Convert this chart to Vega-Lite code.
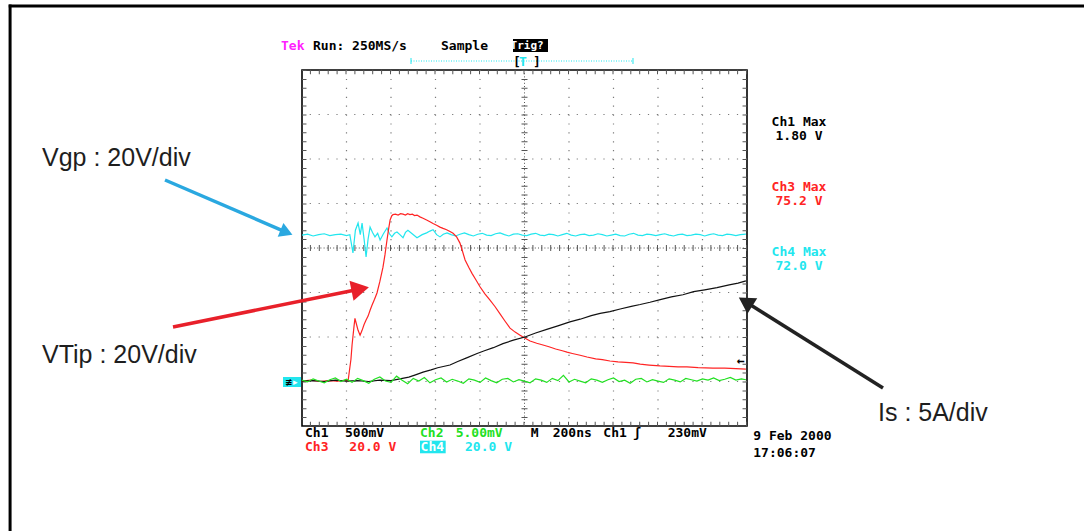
{
  "$schema": "https://vega.github.io/schema/vega-lite/v6.json",
  "width": 445,
  "height": 356,
  "autosize": {"type": "none"},
  "padding": {"left": 302, "top": 70, "right": 337, "bottom": 105},
  "background": "#ffffff",
  "config": {"view": {"stroke": "#000000", "strokeWidth": 1.6}},
  "layer": [
    {
      "data": {"values": [{"t": -800}, {"t": -600}, {"t": -400}, {"t": -200}, {"t": 200}, {"t": 400}, {"t": 600}, {"t": 800}]},
      "mark": {"type": "rule", "color": "#7a7a7a", "strokeWidth": 1.2, "strokeDash": [1.2, 7.7]},
      "encoding": {"x": {"field": "t", "type": "quantitative", "scale": {"domain": [-1000, 1000], "nice": false, "zero": false}, "axis": null}}
    },
    {
      "data": {"values": [{"v": -3}, {"v": -2}, {"v": -1}, {"v": 1}, {"v": 2}, {"v": 3}]},
      "mark": {"type": "rule", "color": "#7a7a7a", "strokeWidth": 1.2, "strokeDash": [1.2, 7.7]},
      "encoding": {"y": {"field": "v", "type": "quantitative", "scale": {"domain": [-4, 4], "nice": false, "zero": false}, "axis": null}}
    },
    {
      "data": {"values": [{"t": 0}]},
      "mark": {"type": "rule", "color": "#555555", "strokeWidth": 1, "strokeDash": [1, 2.2]},
      "encoding": {"x": {"field": "t", "type": "quantitative", "scale": {"domain": [-1000, 1000], "nice": false, "zero": false}, "axis": null}}
    },
    {
      "data": {"values": [{"v": 0}]},
      "mark": {"type": "rule", "color": "#555555", "strokeWidth": 1, "strokeDash": [1, 2.2]},
      "encoding": {"y": {"field": "v", "type": "quantitative", "scale": {"domain": [-4, 4], "nice": false, "zero": false}, "axis": null}}
    },
    {
      "data": {"values": [{"t": 0}]},
      "mark": {"type": "rule", "color": "#555555", "strokeWidth": 6, "strokeDash": [1, 7.9]},
      "encoding": {"x": {"field": "t", "type": "quantitative", "scale": {"domain": [-1000, 1000], "nice": false, "zero": false}, "axis": null}}
    },
    {
      "data": {"values": [{"v": 0}]},
      "mark": {"type": "rule", "color": "#555555", "strokeWidth": 6, "strokeDash": [1, 7.9]},
      "encoding": {"y": {"field": "v", "type": "quantitative", "scale": {"domain": [-4, 4], "nice": false, "zero": false}, "axis": null}}
    },
    {
      "data": {"values": [{"t": -990}, {"t": 990}]},
      "mark": {"type": "rule", "color": "#555555", "strokeWidth": 4.5, "strokeDash": [1, 7.9]},
      "encoding": {"x": {"field": "t", "type": "quantitative", "scale": {"domain": [-1000, 1000], "nice": false, "zero": false}, "axis": null}}
    },
    {
      "data": {"values": [{"v": 3.955}, {"v": -3.955}]},
      "mark": {"type": "rule", "color": "#555555", "strokeWidth": 4.5, "strokeDash": [1, 7.9]},
      "encoding": {"y": {"field": "v", "type": "quantitative", "scale": {"domain": [-4, 4], "nice": false, "zero": false}, "axis": null}}
    },
    {
      "data": {"values": [
        {"ch": "Ch4", "t": -1000, "v": 0.29}, {"ch": "Ch4", "t": -975, "v": 0.31}, {"ch": "Ch4", "t": -950, "v": 0.27}, {"ch": "Ch4", "t": -925, "v": 0.30},
        {"ch": "Ch4", "t": -900, "v": 0.32}, {"ch": "Ch4", "t": -875, "v": 0.28}, {"ch": "Ch4", "t": -850, "v": 0.30}, {"ch": "Ch4", "t": -825, "v": 0.31},
        {"ch": "Ch4", "t": -800, "v": 0.28}, {"ch": "Ch4", "t": -785, "v": 0.30}, {"ch": "Ch4", "t": -771, "v": -0.11}, {"ch": "Ch4", "t": -760, "v": 0.40},
        {"ch": "Ch4", "t": -748, "v": 0.56}, {"ch": "Ch4", "t": -738, "v": 0.30}, {"ch": "Ch4", "t": -730, "v": 0.56}, {"ch": "Ch4", "t": -721, "v": 0.20},
        {"ch": "Ch4", "t": -712, "v": -0.20}, {"ch": "Ch4", "t": -703, "v": 0.20}, {"ch": "Ch4", "t": -694, "v": 0.47}, {"ch": "Ch4", "t": -683, "v": 0.35},
        {"ch": "Ch4", "t": -672, "v": 0.25}, {"ch": "Ch4", "t": -660, "v": 0.33}, {"ch": "Ch4", "t": -649, "v": 0.18}, {"ch": "Ch4", "t": -634, "v": 0.32},
        {"ch": "Ch4", "t": -618, "v": 0.45}, {"ch": "Ch4", "t": -607, "v": 0.32}, {"ch": "Ch4", "t": -596, "v": 0.25}, {"ch": "Ch4", "t": -584, "v": 0.33},
        {"ch": "Ch4", "t": -573, "v": 0.36}, {"ch": "Ch4", "t": -560, "v": 0.30}, {"ch": "Ch4", "t": -546, "v": 0.23}, {"ch": "Ch4", "t": -535, "v": 0.35},
        {"ch": "Ch4", "t": -524, "v": 0.40}, {"ch": "Ch4", "t": -505, "v": 0.32}, {"ch": "Ch4", "t": -483, "v": 0.23}, {"ch": "Ch4", "t": -460, "v": 0.30},
        {"ch": "Ch4", "t": -440, "v": 0.34}, {"ch": "Ch4", "t": -425, "v": 0.38}, {"ch": "Ch4", "t": -411, "v": 0.41}, {"ch": "Ch4", "t": -395, "v": 0.30},
        {"ch": "Ch4", "t": -380, "v": 0.25}, {"ch": "Ch4", "t": -365, "v": 0.31}, {"ch": "Ch4", "t": -348, "v": 0.34}, {"ch": "Ch4", "t": -330, "v": 0.30},
        {"ch": "Ch4", "t": -310, "v": 0.27}, {"ch": "Ch4", "t": -290, "v": 0.31}, {"ch": "Ch4", "t": -270, "v": 0.34}, {"ch": "Ch4", "t": -250, "v": 0.30},
        {"ch": "Ch4", "t": -230, "v": 0.27}, {"ch": "Ch4", "t": -210, "v": 0.31}, {"ch": "Ch4", "t": -190, "v": 0.33}, {"ch": "Ch4", "t": -170, "v": 0.29},
        {"ch": "Ch4", "t": -150, "v": 0.28}, {"ch": "Ch4", "t": -130, "v": 0.32}, {"ch": "Ch4", "t": -110, "v": 0.34}, {"ch": "Ch4", "t": -90, "v": 0.30},
        {"ch": "Ch4", "t": -70, "v": 0.27}, {"ch": "Ch4", "t": -50, "v": 0.31}, {"ch": "Ch4", "t": -30, "v": 0.32}, {"ch": "Ch4", "t": -10, "v": 0.29},
        {"ch": "Ch4", "t": 10, "v": 0.28}, {"ch": "Ch4", "t": 30, "v": 0.31}, {"ch": "Ch4", "t": 50, "v": 0.33}, {"ch": "Ch4", "t": 70, "v": 0.29},
        {"ch": "Ch4", "t": 90, "v": 0.28}, {"ch": "Ch4", "t": 110, "v": 0.31}, {"ch": "Ch4", "t": 130, "v": 0.30}, {"ch": "Ch4", "t": 150, "v": 0.27},
        {"ch": "Ch4", "t": 170, "v": 0.30}, {"ch": "Ch4", "t": 190, "v": 0.33}, {"ch": "Ch4", "t": 210, "v": 0.29}, {"ch": "Ch4", "t": 230, "v": 0.27},
        {"ch": "Ch4", "t": 250, "v": 0.30}, {"ch": "Ch4", "t": 270, "v": 0.31}, {"ch": "Ch4", "t": 290, "v": 0.28}, {"ch": "Ch4", "t": 310, "v": 0.29},
        {"ch": "Ch4", "t": 330, "v": 0.32}, {"ch": "Ch4", "t": 350, "v": 0.30}, {"ch": "Ch4", "t": 370, "v": 0.27}, {"ch": "Ch4", "t": 390, "v": 0.29},
        {"ch": "Ch4", "t": 410, "v": 0.31}, {"ch": "Ch4", "t": 430, "v": 0.28}, {"ch": "Ch4", "t": 450, "v": 0.27}, {"ch": "Ch4", "t": 470, "v": 0.31},
        {"ch": "Ch4", "t": 490, "v": 0.33}, {"ch": "Ch4", "t": 510, "v": 0.29}, {"ch": "Ch4", "t": 530, "v": 0.28}, {"ch": "Ch4", "t": 550, "v": 0.31},
        {"ch": "Ch4", "t": 570, "v": 0.30}, {"ch": "Ch4", "t": 590, "v": 0.28}, {"ch": "Ch4", "t": 610, "v": 0.30}, {"ch": "Ch4", "t": 630, "v": 0.32},
        {"ch": "Ch4", "t": 650, "v": 0.29}, {"ch": "Ch4", "t": 670, "v": 0.27}, {"ch": "Ch4", "t": 690, "v": 0.30}, {"ch": "Ch4", "t": 710, "v": 0.31},
        {"ch": "Ch4", "t": 730, "v": 0.28}, {"ch": "Ch4", "t": 750, "v": 0.29}, {"ch": "Ch4", "t": 770, "v": 0.31}, {"ch": "Ch4", "t": 790, "v": 0.30},
        {"ch": "Ch4", "t": 810, "v": 0.27}, {"ch": "Ch4", "t": 830, "v": 0.30}, {"ch": "Ch4", "t": 850, "v": 0.32}, {"ch": "Ch4", "t": 870, "v": 0.29},
        {"ch": "Ch4", "t": 890, "v": 0.28}, {"ch": "Ch4", "t": 910, "v": 0.31}, {"ch": "Ch4", "t": 930, "v": 0.30}, {"ch": "Ch4", "t": 950, "v": 0.28},
        {"ch": "Ch4", "t": 970, "v": 0.30}, {"ch": "Ch4", "t": 995, "v": 0.31},

        {"ch": "Ch3", "t": -1000, "v": -2.99}, {"ch": "Ch3", "t": -960, "v": -2.97}, {"ch": "Ch3", "t": -920, "v": -3.0}, {"ch": "Ch3", "t": -880, "v": -2.98},
        {"ch": "Ch3", "t": -840, "v": -2.99}, {"ch": "Ch3", "t": -800, "v": -2.97}, {"ch": "Ch3", "t": -793, "v": -2.99}, {"ch": "Ch3", "t": -780, "v": -2.5},
        {"ch": "Ch3", "t": -775, "v": -2.18}, {"ch": "Ch3", "t": -766, "v": -1.75}, {"ch": "Ch3", "t": -762, "v": -1.58}, {"ch": "Ch3", "t": -757, "v": -1.68},
        {"ch": "Ch3", "t": -748, "v": -1.85}, {"ch": "Ch3", "t": -739, "v": -1.96}, {"ch": "Ch3", "t": -730, "v": -1.85}, {"ch": "Ch3", "t": -721, "v": -1.72},
        {"ch": "Ch3", "t": -712, "v": -1.62}, {"ch": "Ch3", "t": -703, "v": -1.53}, {"ch": "Ch3", "t": -694, "v": -1.40}, {"ch": "Ch3", "t": -685, "v": -1.28},
        {"ch": "Ch3", "t": -674, "v": -1.15}, {"ch": "Ch3", "t": -663, "v": -1.01}, {"ch": "Ch3", "t": -650, "v": -0.75}, {"ch": "Ch3", "t": -636, "v": -0.43},
        {"ch": "Ch3", "t": -627, "v": -0.15}, {"ch": "Ch3", "t": -618, "v": 0.18}, {"ch": "Ch3", "t": -611, "v": 0.42}, {"ch": "Ch3", "t": -604, "v": 0.63},
        {"ch": "Ch3", "t": -597, "v": 0.72}, {"ch": "Ch3", "t": -591, "v": 0.75}, {"ch": "Ch3", "t": -580, "v": 0.76}, {"ch": "Ch3", "t": -568, "v": 0.74},
        {"ch": "Ch3", "t": -557, "v": 0.77}, {"ch": "Ch3", "t": -546, "v": 0.76}, {"ch": "Ch3", "t": -535, "v": 0.74}, {"ch": "Ch3", "t": -525, "v": 0.77},
        {"ch": "Ch3", "t": -515, "v": 0.75}, {"ch": "Ch3", "t": -504, "v": 0.76}, {"ch": "Ch3", "t": -494, "v": 0.73}, {"ch": "Ch3", "t": -483, "v": 0.74},
        {"ch": "Ch3", "t": -470, "v": 0.70}, {"ch": "Ch3", "t": -456, "v": 0.67}, {"ch": "Ch3", "t": -440, "v": 0.63}, {"ch": "Ch3", "t": -425, "v": 0.59},
        {"ch": "Ch3", "t": -411, "v": 0.55}, {"ch": "Ch3", "t": -395, "v": 0.51}, {"ch": "Ch3", "t": -380, "v": 0.47}, {"ch": "Ch3", "t": -366, "v": 0.44},
        {"ch": "Ch3", "t": -350, "v": 0.41}, {"ch": "Ch3", "t": -335, "v": 0.37}, {"ch": "Ch3", "t": -321, "v": 0.33}, {"ch": "Ch3", "t": -305, "v": 0.25},
        {"ch": "Ch3", "t": -290, "v": 0.11}, {"ch": "Ch3", "t": -280, "v": -0.05}, {"ch": "Ch3", "t": -267, "v": -0.27}, {"ch": "Ch3", "t": -250, "v": -0.44},
        {"ch": "Ch3", "t": -236, "v": -0.57}, {"ch": "Ch3", "t": -218, "v": -0.72}, {"ch": "Ch3", "t": -200, "v": -0.87}, {"ch": "Ch3", "t": -178, "v": -1.03},
        {"ch": "Ch3", "t": -155, "v": -1.17}, {"ch": "Ch3", "t": -132, "v": -1.32}, {"ch": "Ch3", "t": -110, "v": -1.48}, {"ch": "Ch3", "t": -88, "v": -1.64},
        {"ch": "Ch3", "t": -65, "v": -1.80}, {"ch": "Ch3", "t": -42, "v": -1.89}, {"ch": "Ch3", "t": -20, "v": -1.96}, {"ch": "Ch3", "t": 3, "v": -2.03},
        {"ch": "Ch3", "t": 25, "v": -2.09}, {"ch": "Ch3", "t": 55, "v": -2.14}, {"ch": "Ch3", "t": 83, "v": -2.18}, {"ch": "Ch3", "t": 110, "v": -2.22},
        {"ch": "Ch3", "t": 140, "v": -2.27}, {"ch": "Ch3", "t": 170, "v": -2.31}, {"ch": "Ch3", "t": 191, "v": -2.34}, {"ch": "Ch3", "t": 215, "v": -2.37},
        {"ch": "Ch3", "t": 250, "v": -2.41}, {"ch": "Ch3", "t": 281, "v": -2.45}, {"ch": "Ch3", "t": 320, "v": -2.49}, {"ch": "Ch3", "t": 350, "v": -2.51},
        {"ch": "Ch3", "t": 384, "v": -2.54}, {"ch": "Ch3", "t": 420, "v": -2.56}, {"ch": "Ch3", "t": 455, "v": -2.57}, {"ch": "Ch3", "t": 488, "v": -2.58},
        {"ch": "Ch3", "t": 520, "v": -2.61}, {"ch": "Ch3", "t": 560, "v": -2.63}, {"ch": "Ch3", "t": 609, "v": -2.65}, {"ch": "Ch3", "t": 650, "v": -2.66},
        {"ch": "Ch3", "t": 690, "v": -2.67}, {"ch": "Ch3", "t": 730, "v": -2.67}, {"ch": "Ch3", "t": 780, "v": -2.69}, {"ch": "Ch3", "t": 847, "v": -2.70},
        {"ch": "Ch3", "t": 900, "v": -2.70}, {"ch": "Ch3", "t": 950, "v": -2.71}, {"ch": "Ch3", "t": 995, "v": -2.72},

        {"ch": "Ch1", "t": -1000, "v": -2.99}, {"ch": "Ch1", "t": -950, "v": -2.98}, {"ch": "Ch1", "t": -900, "v": -3.0}, {"ch": "Ch1", "t": -850, "v": -2.97},
        {"ch": "Ch1", "t": -800, "v": -2.99}, {"ch": "Ch1", "t": -750, "v": -2.98}, {"ch": "Ch1", "t": -700, "v": -3.0}, {"ch": "Ch1", "t": -650, "v": -2.97},
        {"ch": "Ch1", "t": -600, "v": -2.98}, {"ch": "Ch1", "t": -560, "v": -2.94}, {"ch": "Ch1", "t": -520, "v": -2.90}, {"ch": "Ch1", "t": -490, "v": -2.85},
        {"ch": "Ch1", "t": -456, "v": -2.79}, {"ch": "Ch1", "t": -420, "v": -2.74}, {"ch": "Ch1", "t": -390, "v": -2.69}, {"ch": "Ch1", "t": -335, "v": -2.63},
        {"ch": "Ch1", "t": -300, "v": -2.55}, {"ch": "Ch1", "t": -260, "v": -2.47}, {"ch": "Ch1", "t": -213, "v": -2.37}, {"ch": "Ch1", "t": -180, "v": -2.31},
        {"ch": "Ch1", "t": -140, "v": -2.24}, {"ch": "Ch1", "t": -97, "v": -2.15}, {"ch": "Ch1", "t": -50, "v": -2.07}, {"ch": "Ch1", "t": 2, "v": -2.0},
        {"ch": "Ch1", "t": 50, "v": -1.91}, {"ch": "Ch1", "t": 100, "v": -1.83}, {"ch": "Ch1", "t": 150, "v": -1.75}, {"ch": "Ch1", "t": 204, "v": -1.66},
        {"ch": "Ch1", "t": 250, "v": -1.60}, {"ch": "Ch1", "t": 300, "v": -1.52}, {"ch": "Ch1", "t": 340, "v": -1.47}, {"ch": "Ch1", "t": 384, "v": -1.43},
        {"ch": "Ch1", "t": 430, "v": -1.37}, {"ch": "Ch1", "t": 480, "v": -1.31}, {"ch": "Ch1", "t": 520, "v": -1.27}, {"ch": "Ch1", "t": 564, "v": -1.22},
        {"ch": "Ch1", "t": 610, "v": -1.16}, {"ch": "Ch1", "t": 660, "v": -1.10}, {"ch": "Ch1", "t": 712, "v": -1.05}, {"ch": "Ch1", "t": 760, "v": -0.98},
        {"ch": "Ch1", "t": 810, "v": -0.94}, {"ch": "Ch1", "t": 865, "v": -0.89}, {"ch": "Ch1", "t": 920, "v": -0.83}, {"ch": "Ch1", "t": 960, "v": -0.79},
        {"ch": "Ch1", "t": 995, "v": -0.74},

        {"ch": "Ch2", "t": -1000, "v": -2.97}, {"ch": "Ch2", "t": -975, "v": -3.01}, {"ch": "Ch2", "t": -950, "v": -2.94}, {"ch": "Ch2", "t": -925, "v": -2.99},
        {"ch": "Ch2", "t": -900, "v": -3.03}, {"ch": "Ch2", "t": -875, "v": -2.96}, {"ch": "Ch2", "t": -850, "v": -2.92}, {"ch": "Ch2", "t": -825, "v": -3.00},
        {"ch": "Ch2", "t": -800, "v": -2.95}, {"ch": "Ch2", "t": -775, "v": -3.02}, {"ch": "Ch2", "t": -750, "v": -2.93}, {"ch": "Ch2", "t": -725, "v": -2.98},
        {"ch": "Ch2", "t": -700, "v": -3.04}, {"ch": "Ch2", "t": -675, "v": -2.95}, {"ch": "Ch2", "t": -650, "v": -2.90}, {"ch": "Ch2", "t": -625, "v": -2.99},
        {"ch": "Ch2", "t": -600, "v": -3.02}, {"ch": "Ch2", "t": -575, "v": -2.88}, {"ch": "Ch2", "t": -550, "v": -2.97}, {"ch": "Ch2", "t": -525, "v": -3.05},
        {"ch": "Ch2", "t": -500, "v": -2.93}, {"ch": "Ch2", "t": -475, "v": -2.99}, {"ch": "Ch2", "t": -450, "v": -2.91}, {"ch": "Ch2", "t": -425, "v": -3.03},
        {"ch": "Ch2", "t": -400, "v": -2.96}, {"ch": "Ch2", "t": -375, "v": -2.92}, {"ch": "Ch2", "t": -350, "v": -3.01}, {"ch": "Ch2", "t": -325, "v": -2.95},
        {"ch": "Ch2", "t": -300, "v": -2.99}, {"ch": "Ch2", "t": -275, "v": -3.04}, {"ch": "Ch2", "t": -250, "v": -2.94}, {"ch": "Ch2", "t": -225, "v": -2.97},
        {"ch": "Ch2", "t": -200, "v": -3.02}, {"ch": "Ch2", "t": -175, "v": -2.92}, {"ch": "Ch2", "t": -150, "v": -2.98}, {"ch": "Ch2", "t": -125, "v": -3.03},
        {"ch": "Ch2", "t": -100, "v": -2.95}, {"ch": "Ch2", "t": -75, "v": -2.93}, {"ch": "Ch2", "t": -50, "v": -3.01}, {"ch": "Ch2", "t": -25, "v": -2.96},
        {"ch": "Ch2", "t": 0, "v": -2.99}, {"ch": "Ch2", "t": 25, "v": -3.03}, {"ch": "Ch2", "t": 50, "v": -2.94}, {"ch": "Ch2", "t": 75, "v": -2.97},
        {"ch": "Ch2", "t": 100, "v": -3.02}, {"ch": "Ch2", "t": 125, "v": -2.93}, {"ch": "Ch2", "t": 150, "v": -2.98}, {"ch": "Ch2", "t": 175, "v": -2.86},
        {"ch": "Ch2", "t": 200, "v": -3.01}, {"ch": "Ch2", "t": 225, "v": -2.95}, {"ch": "Ch2", "t": 250, "v": -2.99}, {"ch": "Ch2", "t": 275, "v": -3.03},
        {"ch": "Ch2", "t": 300, "v": -2.94}, {"ch": "Ch2", "t": 325, "v": -2.97}, {"ch": "Ch2", "t": 350, "v": -3.02}, {"ch": "Ch2", "t": 375, "v": -2.96},
        {"ch": "Ch2", "t": 400, "v": -2.92}, {"ch": "Ch2", "t": 425, "v": -3.00}, {"ch": "Ch2", "t": 450, "v": -2.97}, {"ch": "Ch2", "t": 475, "v": -3.04},
        {"ch": "Ch2", "t": 500, "v": -2.95}, {"ch": "Ch2", "t": 525, "v": -2.93}, {"ch": "Ch2", "t": 550, "v": -3.01}, {"ch": "Ch2", "t": 575, "v": -2.96},
        {"ch": "Ch2", "t": 600, "v": -2.99}, {"ch": "Ch2", "t": 625, "v": -3.02}, {"ch": "Ch2", "t": 650, "v": -2.94}, {"ch": "Ch2", "t": 675, "v": -2.97},
        {"ch": "Ch2", "t": 700, "v": -3.01}, {"ch": "Ch2", "t": 725, "v": -2.93}, {"ch": "Ch2", "t": 750, "v": -2.96}, {"ch": "Ch2", "t": 775, "v": -2.99},
        {"ch": "Ch2", "t": 800, "v": -2.94}, {"ch": "Ch2", "t": 825, "v": -2.97}, {"ch": "Ch2", "t": 850, "v": -2.92}, {"ch": "Ch2", "t": 875, "v": -2.98},
        {"ch": "Ch2", "t": 900, "v": -2.95}, {"ch": "Ch2", "t": 925, "v": -2.91}, {"ch": "Ch2", "t": 950, "v": -2.97}, {"ch": "Ch2", "t": 975, "v": -2.94},
        {"ch": "Ch2", "t": 995, "v": -2.96}
      ]},
      "mark": {"type": "line", "strokeWidth": 1.2},
      "encoding": {
        "x": {"field": "t", "type": "quantitative", "scale": {"domain": [-1000, 1000], "nice": false, "zero": false}, "axis": null},
        "y": {"field": "v", "type": "quantitative", "scale": {"domain": [-4, 4], "nice": false, "zero": false}, "axis": null},
        "color": {"field": "ch", "type": "nominal", "legend": null,
          "scale": {"domain": ["Ch1", "Ch2", "Ch3", "Ch4", "Tek", "ink", "paper", "Vgp", "VTip", "Is", "label"],
                    "range": ["#111111", "#22e022", "#ff2424", "#22e6ee", "#ff22ff", "#000000", "#ffffff", "#2aa8e0", "#e8202a", "#222222", "#1e1e1e"]}}
      }
    },
    {
      "data": {"values": [
        {"t": -2312, "v": 5.47, "t2": -2312, "v2": -6.5, "ch": "ink"},
        {"t": -2318, "v": 5.438, "t2": 2530, "v2": 5.438, "ch": "ink"}
      ]},
      "mark": {"type": "rule", "strokeWidth": 3},
      "encoding": {
        "x": {"field": "t", "type": "quantitative", "scale": {"domain": [-1000, 1000], "nice": false, "zero": false}, "axis": null},
        "x2": {"field": "t2"},
        "y": {"field": "v", "type": "quantitative", "scale": {"domain": [-4, 4], "nice": false, "zero": false}, "axis": null},
        "y2": {"field": "v2"},
        "color": {"field": "ch", "type": "nominal", "legend": null}
      }
    },
    {
      "data": {"values": [
        {"t": -1615.7, "v": 1.528, "t2": -1069.7, "v2": 0.353, "ch": "Vgp"},
        {"t": -1579.8, "v": -1.775, "t2": -738.4, "v2": -0.921, "ch": "VTip"},
        {"t": 1611.2, "v": -3.146, "t2": 993.6, "v2": -1.209, "ch": "Is"}
      ]},
      "mark": {"type": "rule", "strokeWidth": 3.5},
      "encoding": {
        "x": {"field": "t", "type": "quantitative", "scale": {"domain": [-1000, 1000], "nice": false, "zero": false}, "axis": null},
        "x2": {"field": "t2"},
        "y": {"field": "v", "type": "quantitative", "scale": {"domain": [-4, 4], "nice": false, "zero": false}, "axis": null},
        "y2": {"field": "v2"},
        "color": {"field": "ch", "type": "nominal", "legend": null}
      }
    },
    {
      "data": {"values": [{"t": -1069.7, "v": 0.353, "ch": "Vgp"}]},
      "mark": {"type": "point", "shape": "triangle-up", "filled": true, "opacity": 1, "size": 220, "angle": 112.6},
      "encoding": {
        "x": {"field": "t", "type": "quantitative", "scale": {"domain": [-1000, 1000], "nice": false, "zero": false}, "axis": null},
        "y": {"field": "v", "type": "quantitative", "scale": {"domain": [-4, 4], "nice": false, "zero": false}, "axis": null},
        "color": {"field": "ch", "type": "nominal", "legend": null}
      }
    },
    {
      "data": {"values": [{"t": -738.4, "v": -0.921, "ch": "VTip"}]},
      "mark": {"type": "point", "shape": "triangle-up", "filled": true, "opacity": 1, "size": 420, "angle": 78.5},
      "encoding": {
        "x": {"field": "t", "type": "quantitative", "scale": {"domain": [-1000, 1000], "nice": false, "zero": false}, "axis": null},
        "y": {"field": "v", "type": "quantitative", "scale": {"domain": [-4, 4], "nice": false, "zero": false}, "axis": null},
        "color": {"field": "ch", "type": "nominal", "legend": null}
      }
    },
    {
      "data": {"values": [{"t": 993.6, "v": -1.209, "ch": "Is"}]},
      "mark": {"type": "point", "shape": "triangle-up", "filled": true, "opacity": 1, "size": 340, "angle": 302},
      "encoding": {
        "x": {"field": "t", "type": "quantitative", "scale": {"domain": [-1000, 1000], "nice": false, "zero": false}, "axis": null},
        "y": {"field": "v", "type": "quantitative", "scale": {"domain": [-4, 4], "nice": false, "zero": false}, "axis": null},
        "color": {"field": "ch", "type": "nominal", "legend": null}
      }
    },
    {
      "data": {"values": [
        {"t": -51.7, "t2": 105.6, "v": 4.697, "v2": 4.404, "ch": "ink"},
        {"t": -469.7, "t2": -354.2, "v": -4.33, "v2": -4.613, "ch": "Ch4"},
        {"t": -1085.4, "t2": -1004.5, "v": -2.899, "v2": -3.124, "ch": "Ch4"}
      ]},
      "mark": {"type": "rect"},
      "encoding": {
        "x": {"field": "t", "type": "quantitative", "scale": {"domain": [-1000, 1000], "nice": false, "zero": false}, "axis": null},
        "x2": {"field": "t2"},
        "y": {"field": "v", "type": "quantitative", "scale": {"domain": [-4, 4], "nice": false, "zero": false}, "axis": null},
        "y2": {"field": "v2"},
        "color": {"field": "ch", "type": "nominal", "legend": null}
      }
    },
    {
      "data": {"values": [{"t": -510.1, "v": 4.202, "t2": 487.6, "v2": 4.202, "ch": "Ch4"}]},
      "mark": {"type": "rule", "strokeWidth": 1, "strokeDash": [1, 1.5]},
      "encoding": {
        "x": {"field": "t", "type": "quantitative", "scale": {"domain": [-1000, 1000], "nice": false, "zero": false}, "axis": null},
        "x2": {"field": "t2"},
        "y": {"field": "v", "type": "quantitative", "scale": {"domain": [-4, 4], "nice": false, "zero": false}, "axis": null},
        "y2": {"field": "v2"},
        "color": {"field": "ch", "type": "nominal", "legend": null}
      }
    },
    {
      "data": {"values": [
        {"t": -510.1, "v": 4.27, "t2": -510.1, "v2": 4.135, "ch": "Ch4"},
        {"t": 487.6, "v": 4.27, "t2": 487.6, "v2": 4.135, "ch": "Ch4"}
      ]},
      "mark": {"type": "rule", "strokeWidth": 1},
      "encoding": {
        "x": {"field": "t", "type": "quantitative", "scale": {"domain": [-1000, 1000], "nice": false, "zero": false}, "axis": null},
        "x2": {"field": "t2"},
        "y": {"field": "v", "type": "quantitative", "scale": {"domain": [-4, 4], "nice": false, "zero": false}, "axis": null},
        "y2": {"field": "v2"},
        "color": {"field": "ch", "type": "nominal", "legend": null}
      }
    },
    {
      "data": {"values": [
        {"t": -1094.4, "v": 4.539, "txt": "Tek", "ch": "Tek"},
        {"t": -950.6, "v": 4.539, "txt": "Run: 250MS/s", "ch": "ink"},
        {"t": -375.3, "v": 4.539, "txt": "Sample", "ch": "ink"},
        {"t": -51.7, "v": 4.18, "txt": "[", "ch": "ink"},
        {"t": -24.7, "v": 4.18, "txt": "T", "ch": "Ch4"},
        {"t": 38.2, "v": 4.18, "txt": "]", "ch": "ink"},
        {"t": -986.5, "v": -4.15, "txt": "Ch1", "ch": "ink"},
        {"t": -806.7, "v": -4.15, "txt": "500mV", "ch": "ink"},
        {"t": -469.7, "v": -4.15, "txt": "Ch2", "ch": "Ch2"},
        {"t": -309.4, "v": -4.15, "txt": "5.00mV", "ch": "Ch2"},
        {"t": 27.8, "v": -4.15, "txt": "M", "ch": "ink"},
        {"t": 126.7, "v": -4.15, "txt": "200ns", "ch": "ink"},
        {"t": 354.3, "v": -4.15, "txt": "Ch1", "ch": "ink"},
        {"t": 489, "v": -4.15, "txt": "ʃ", "ch": "ink"},
        {"t": 643.5, "v": -4.15, "txt": "230mV", "ch": "ink"},
        {"t": -986.5, "v": -4.472, "txt": "Ch3", "ch": "Ch3"},
        {"t": -787.3, "v": -4.472, "txt": "20.0 V", "ch": "Ch3"},
        {"t": -467, "v": -4.472, "txt": "Ch4", "ch": "paper"},
        {"t": -267.4, "v": -4.472, "txt": "20.0 V", "ch": "Ch4"},
        {"t": 1028.3, "v": -4.218, "txt": "9 Feb 2000", "ch": "ink"},
        {"t": 1028.3, "v": -4.613, "txt": "17:06:07", "ch": "ink"},
        {"t": 955, "v": -2.55, "txt": "←", "ch": "ink"}
      ]},
      "mark": {"type": "text", "align": "left", "baseline": "middle", "font": "DejaVu Sans Mono", "fontSize": 13, "fontWeight": "bold"},
      "encoding": {
        "x": {"field": "t", "type": "quantitative", "scale": {"domain": [-1000, 1000], "nice": false, "zero": false}, "axis": null},
        "y": {"field": "v", "type": "quantitative", "scale": {"domain": [-4, 4], "nice": false, "zero": false}, "axis": null},
        "text": {"field": "txt"},
        "color": {"field": "ch", "type": "nominal", "legend": null}
      }
    },
    {
      "data": {"values": [{"t": 12, "v": 4.55, "txt": "Trig?", "ch": "paper"}]},
      "mark": {"type": "text", "align": "center", "baseline": "middle", "font": "DejaVu Sans Mono", "fontSize": 11, "fontWeight": "bold"},
      "encoding": {
        "x": {"field": "t", "type": "quantitative", "scale": {"domain": [-1000, 1000], "nice": false, "zero": false}, "axis": null},
        "y": {"field": "v", "type": "quantitative", "scale": {"domain": [-4, 4], "nice": false, "zero": false}, "axis": null},
        "text": {"field": "txt"},
        "color": {"field": "ch", "type": "nominal", "legend": null}
      }
    },
    {
      "data": {"values": [
        {"t": -1060, "v": -3.01, "txt": "≢", "ch": "ink"},
        {"t": -1030, "v": -3.01, "txt": "▸", "ch": "paper"}
      ]},
      "mark": {"type": "text", "align": "center", "baseline": "middle", "font": "DejaVu Sans", "fontSize": 9, "fontWeight": "bold"},
      "encoding": {
        "x": {"field": "t", "type": "quantitative", "scale": {"domain": [-1000, 1000], "nice": false, "zero": false}, "axis": null},
        "y": {"field": "v", "type": "quantitative", "scale": {"domain": [-4, 4], "nice": false, "zero": false}, "axis": null},
        "text": {"field": "txt"},
        "color": {"field": "ch", "type": "nominal", "legend": null}
      }
    },
    {
      "data": {"values": [
        {"t": 1233.7, "v": 2.831, "txt": "Ch1 Max", "ch": "ink"},
        {"t": 1233.7, "v": 2.517, "txt": "1.80 V", "ch": "ink"},
        {"t": 1233.7, "v": 1.371, "txt": "Ch3 Max", "ch": "Ch3"},
        {"t": 1233.7, "v": 1.056, "txt": "75.2 V", "ch": "Ch3"},
        {"t": 1233.7, "v": -0.09, "txt": "Ch4 Max", "ch": "Ch4"},
        {"t": 1233.7, "v": -0.404, "txt": "72.0 V", "ch": "Ch4"}
      ]},
      "mark": {"type": "text", "align": "center", "baseline": "middle", "font": "DejaVu Sans Mono", "fontSize": 13, "fontWeight": "bold"},
      "encoding": {
        "x": {"field": "t", "type": "quantitative", "scale": {"domain": [-1000, 1000], "nice": false, "zero": false}, "axis": null},
        "y": {"field": "v", "type": "quantitative", "scale": {"domain": [-4, 4], "nice": false, "zero": false}, "axis": null},
        "text": {"field": "txt"},
        "color": {"field": "ch", "type": "nominal", "legend": null}
      }
    },
    {
      "data": {"values": [
        {"t": -2168.5, "v": 2.022, "txt": "Vgp : 20V/div", "ch": "label"},
        {"t": -2168.5, "v": -2.404, "txt": "VTip : 20V/div", "ch": "label"},
        {"t": 1588.8, "v": -3.708, "txt": "Is : 5A/div", "ch": "label"}
      ]},
      "mark": {"type": "text", "align": "left", "baseline": "middle", "font": "Liberation Sans", "fontSize": 25},
      "encoding": {
        "x": {"field": "t", "type": "quantitative", "scale": {"domain": [-1000, 1000], "nice": false, "zero": false}, "axis": null},
        "y": {"field": "v", "type": "quantitative", "scale": {"domain": [-4, 4], "nice": false, "zero": false}, "axis": null},
        "text": {"field": "txt"},
        "color": {"field": "ch", "type": "nominal", "legend": null}
      }
    }
  ]
}
